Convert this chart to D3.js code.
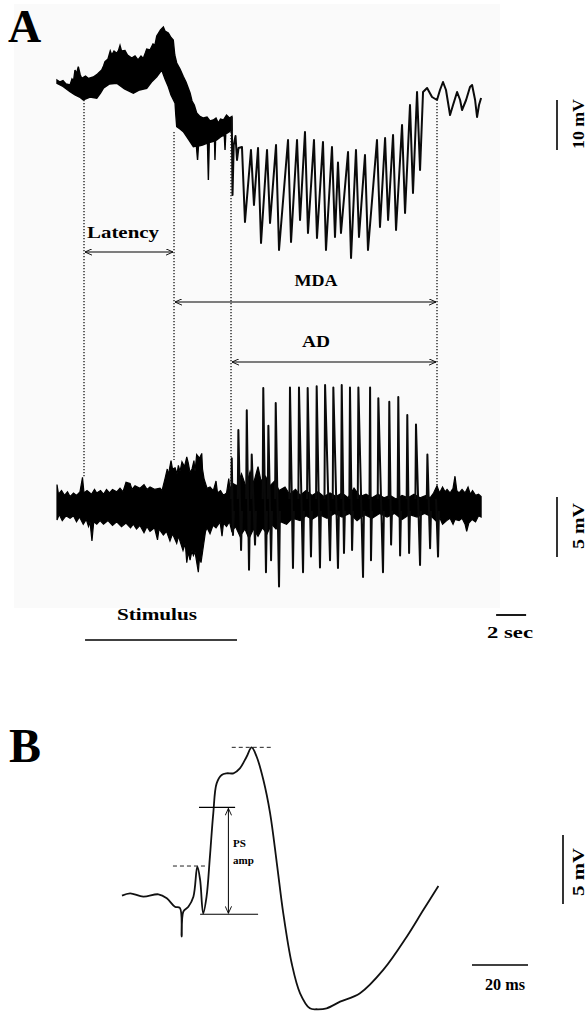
<!DOCTYPE html>
<html><head><meta charset="utf-8">
<script src="https://cdn.jsdelivr.net/npm/d3@7"></script>
<style>body{margin:0;background:#fff} svg{display:block}</style>
</head><body>
<svg id="c" width="587" height="1015"></svg>
<script>
// ---------- DATA (time in s / ms, voltage in mV) ----------
// Panel A, upper trace (DC shift): noisy thick band before AD, upper and lower envelope
const topBandUpper = [[0,1.0],[0.2,0.6],[0.4,0.9],[0.6,0.2],[0.87,0],[1.0,1.2],[1.1,0.8],[1.2,3.0],[1.3,2.2],[1.42,3.66],[1.55,2.0],[1.65,1.34],[1.9,1.8],[2.1,1.3],[2.42,1.6],[2.7,2.2],[2.98,3.0],[3.1,3.8],[3.2,4.66],[3.4,5.2],[3.55,6.8],[3.65,6.0],[3.8,6.8],[3.98,6.34],[4.1,6.9],[4.2,7.9],[4.3,6.8],[4.53,6.9],[4.7,6.0],[4.98,5.4],[5.2,5.8],[5.4,5.0],[5.6,5.8],[5.75,5.3],[5.9,6.5],[5.98,7.2],[6.2,7.0],[6.4,8.2],[6.53,8.0],[6.65,9.8],[6.75,10.3],[6.9,11.0],[7.09,11.6],[7.2,10.8],[7.42,10.4],[7.6,9.5],[7.75,9.0],[7.85,6.0],[7.98,4.4],[8.2,3.2],[8.42,1.7],[8.6,0.6],[8.87,-1.6],[9.0,-3.2],[9.15,-4.0],[9.31,-5.6],[9.5,-6.2],[9.75,-6.6],[10.0,-6.4],[10.2,-7.2],[10.42,-7.0],[10.6,-6.6],[10.75,-7.6],[10.9,-6.8],[11.09,-7.0],[11.3,-6.0],[11.5,-6.6],[11.65,-6.3]];
const topBandLower = [[0,0.34],[0.4,-0.3],[0.87,-1.34],[1.2,-2.0],[1.5,-2.4],[1.75,-3.0],[2.2,-2.4],[2.65,-2.66],[2.9,-1.6],[3.09,-0.66],[3.5,0.2],[3.98,0.34],[4.5,-0.8],[5.09,-1.66],[5.5,-1.0],[5.98,-0.66],[6.3,0.6],[6.65,1.66],[6.98,3.0],[7.2,1.2],[7.42,-0.34],[7.6,-2.0],[7.87,-3.66],[7.92,-6.0],[7.98,-8.34],[8.2,-8.8],[8.42,-9.34],[8.8,-11.0],[9.09,-12.34],[9.29,-12.2],[9.37,-15],[9.43,-12.2],[9.7,-12.0],[9.98,-11.66],[10.03,-11.6],[10.09,-19],[10.15,-11.5],[10.5,-11.2],[10.53,-15],[10.57,-11.1],[10.65,-11.0],[10.9,-10.4],[11.15,-10],[11.2,-13],[11.25,-9.8],[11.31,-9.66],[11.65,-9.0]];
// upper trace during after-discharge: alternating spike tops / bottoms, then tail
const topSpikes = [[11.65,-6.3],[11.7,-22],[11.78,-12],[11.9,-10.2],[12.0,-15],[12.1,-12.6],
 [12.33,-12.4],[12.53,-27.4],[12.93,-13],[13.13,-24],[13.4,-12.6],[13.6,-31.6],
 [14.0,-13],[14.2,-27.6],[14.6,-12],[14.8,-33],[15.4,-11],[15.6,-31.4],
 [16.0,-11],[16.2,-27],[16.53,-9.4],[16.73,-29.6],[17.13,-11],[17.33,-30.6],
 [17.73,-11.4],[17.93,-33],[18.33,-12.4],[18.53,-30.4],[18.73,-15.5],[18.93,-29.6],
 [19.4,-13.4],[19.6,-34.6],[19.93,-13],[20.13,-30.4],[20.53,-14],[20.73,-33],
 [21.33,-11],[21.53,-28.4],[21.87,-10.6],[22.07,-27],[22.4,-10],[22.6,-29],
 [23.0,-8],[23.2,-25.6],[23.53,-4],[23.73,-21.6],[24.0,-1.4],[24.2,-17],
 [24.4,-1.4],[24.67,-0.6],[25.0,-2.4],[25.33,-3],[25.53,-1],[25.73,0.6],[25.93,-1],
 [26.2,-6],[26.4,-4],[26.67,-1.4],[26.87,-3],[27.0,-5],[27.27,-3],[27.53,-0.4],
 [27.67,0],[27.87,-3],[28.0,-6.4],[28.13,-4],[28.27,-2.6]];

// Panel A, lower trace (field potential): noisy band envelope
const botBandUpper = [[0,1.7],[0.1,0.9],[0.3,1.2],[0.5,0.8],[0.7,1.1],[0.87,0.7],[1.1,1.0],[1.3,0.8],[1.53,1.1],[1.7,2.3],[1.8,1.0],[2.0,1.2],[2.3,0.9],[2.5,1.3],[2.65,1.0],[2.9,1.2],[3.1,0.9],[3.3,1.3],[3.5,1.0],[3.7,1.3],[3.98,1.1],[4.2,1.4],[4.4,1.1],[4.6,1.9],[4.87,1.8],[5.0,1.3],[5.2,1.6],[5.53,1.4],[5.8,1.7],[6.0,1.3],[6.2,1.5],[6.5,1.3],[6.87,1.4],[7.0,1.2],[7.2,2.2],[7.35,3.0],[7.42,2.5],[7.6,3.7],[7.7,3.0],[7.87,3.1],[8.0,2.6],[8.09,3.3],[8.2,2.8],[8.33,3.6],[8.5,3.2],[8.65,4.0],[8.75,3.5],[8.87,2.7],[9.0,3.0],[9.13,3.7],[9.2,2.8],[9.31,4.2],[9.5,3.9],[9.65,4.3],[9.7,3.0],[9.8,2.2],[9.9,1.8],[10.0,1.4],[10.2,1.5],[10.42,1.2],[10.6,2.0],[10.7,1.0],[10.9,1.2],[11.09,0.8],[11.3,1.0],[11.45,2.2],[11.53,1.3],
 [11.7,1.8],[12.0,1.6],[12.3,2.6],[12.6,1.5],[12.87,2.8],[13.1,1.8],[13.4,3.2],[13.6,2.0],[13.9,2.4],[14.2,1.6],[14.5,2.0],[14.8,1.2],[15.2,1.5],[15.5,0.9],[15.9,1.3],[16.2,0.8],[16.6,1.2],[17.0,0.8],[17.4,1.1],[17.8,0.7],[18.2,1.0],[18.6,0.7],[19.0,1.0],[19.4,0.6],[19.8,1.4],[20.2,0.7],[20.6,0.9],[21.0,0.6],[21.4,0.9],[21.8,0.6],[22.2,0.8],[22.6,0.5],[23.0,0.8],[23.4,0.6],[23.8,0.9],[24.2,0.6],[24.6,0.8],[24.87,0.6],[25.1,1.0],[25.33,1.6],[25.5,1.0],[25.7,1.5],[25.87,1.1],[26.0,1.3],[26.2,1.0],[26.4,1.4],[26.53,2.4],[26.65,1.2],[26.8,1.0],[27.0,1.3],[27.2,1.0],[27.4,1.5],[27.55,0.9],[27.7,1.2],[27.9,0.8],[28.1,0.9],[28.27,0.7]];
const botBandLower = [[0,-1.25],[0.15,-0.8],[0.35,-1.3],[0.6,-0.9],[0.87,-1.1],[1.1,-0.9],[1.3,-1.4],[1.5,-1.0],[1.75,-1.6],[1.95,-1.2],[2.1,-1.8],[2.2,-1.4],[2.33,-3.0],[2.45,-1.4],[2.65,-1.6],[2.87,-1.3],[3.1,-1.6],[3.4,-1.3],[3.7,-1.7],[3.98,-1.4],[4.3,-1.8],[4.6,-1.5],[4.9,-1.9],[5.09,-1.6],[5.3,-2.0],[5.53,-1.7],[5.8,-2.3],[6.0,-1.8],[6.2,-2.2],[6.5,-1.9],[6.7,-2.9],[6.8,-2.0],[7.09,-2.5],[7.3,-2.2],[7.53,-3.0],[7.7,-2.4],[7.98,-3.2],[8.1,-2.6],[8.4,-3.8],[8.55,-3.2],[8.65,-4.8],[8.75,-3.9],[8.87,-4.6],[9.0,-3.8],[9.09,-4.2],[9.2,-3.9],[9.42,-5.6],[9.5,-4.4],[9.6,-4.8],[9.75,-3.5],[9.9,-2.2],[10.0,-1.9],[10.2,-2.4],[10.4,-1.7],[10.6,-1.9],[10.87,-1.4],[11.0,-2.6],[11.1,-1.5],[11.3,-1.8],[11.5,-1.4],[11.65,-2.2],
 [11.9,-1.8],[12.2,-2.6],[12.53,-2.0],[12.8,-2.8],[13.1,-2.0],[13.4,-2.6],[13.7,-1.9],[14.0,-2.4],[14.3,-1.6],[14.6,-2.0],[14.9,-1.4],[15.3,-1.6],[15.7,-1.1],[16.2,-1.3],[16.6,-0.9],[17.0,-1.2],[17.5,-0.8],[18.0,-1.1],[18.5,-0.7],[19.0,-1.0],[19.5,-0.7],[20.0,-1.3],[20.5,-0.8],[21.0,-1.1],[21.5,-0.7],[22.0,-1.0],[22.5,-0.7],[23.0,-1.2],[23.5,-0.8],[24.0,-1.0],[24.5,-0.7],[25.0,-1.0],[25.33,-1.4],[25.53,-1.1],[25.7,-1.6],[25.98,-1.3],[26.2,-1.1],[26.4,-1.6],[26.53,-1.2],[26.8,-1.3],[27.0,-1.1],[27.2,-1.6],[27.31,-2.2],[27.45,-1.5],[27.67,-1.2],[27.9,-1.4],[28.1,-0.9],[28.27,-1.0]];
// lower trace spikes: [time of top, top mV, time of bottom, bottom mV]
const botSpikes = [[11.65,3.9,11.73,-2.5],[12.09,6.25,12.27,-3.75],[12.65,7.9,12.8,-5.4],[12.98,4.2,13.2,-3.3],
 [13.75,9.75,13.93,-5.6],[14.09,6.6,14.27,-4.6],[14.58,8.5,14.8,-6.8],[15.53,9.8,15.73,-5.25],
 [16.13,9.8,16.4,-5.6],[16.71,9.75,16.93,-4.3],[17.31,9.9,17.53,-5.2],[17.87,10.0,18.2,-4.6],
 [18.42,9.8,18.73,-5.25],[18.98,10.0,19.13,-4.0],[19.53,9.8,19.67,-3.75],[20.09,9.8,20.4,-6.0],
 [20.87,9.8,20.93,-4.6],[21.42,8.9,21.73,-5.6],[22.15,8.6,22.27,-3.3],[22.75,9.0,22.87,-4.2],
 [23.35,7.5,23.47,-4.0],[23.93,6.7,24.2,-5.0],[24.69,4.2,24.87,-3.6],[25.27,0.4,25.4,-4.3]];

// event markers (s) and interval labels
const markerTimes = [1.8, 7.8, 11.6, 25.33];
const markerTopMv = [-3, -9.4, -6.4, -3.6];
const markerBotMv = [2.3, 3.75, 1.8, 1.4];
const intervals = [["Latency",1.8,7.8],["MDA",7.8,25.33],["AD",11.6,25.33]];
const stimulus = [1.87, 12.0];

// Panel B: population spike (ms, mV)
const psTrace = [[0,-0.05],[2.9,0.12],[7.6,-0.12],[13.0,0.05],[16.0,-0.24],[18.9,-0.85],[20.7,-0.94],[21.3,-3.02],[21.9,-1.21],[23.7,-0.85],[25.5,-0.12],[26.9,2.05],[27.9,1.09],[29.0,-1.33],[30.2,-0.12],[31.4,2.78],[32.6,5.92],[33.8,8.09],[35.6,8.70],[37.4,8.82],[39.8,8.82],[42.1,9.18],[44.5,10.02],[46.3,10.70],[48.1,10.02],[50.5,8.33],[52.9,5.92],[55.3,2.30],[57.6,-1.33],[60.6,-4.95],[63.6,-7.12],[67.1,-8.21],[69.5,-8.28],[73.1,-8.21],[77.9,-7.73],[85.0,-7.12],[93.3,-5.43],[101.7,-3.02],[107.6,-1.09],[113.0,0.65]];
const psPeakMv = 10.7, psFirstPeakMv = 2.1, psTopMv = 6.35, psTroughMv = -1.4;

// ---------- DRAW ----------
const svg = d3.select("#c");
const FONT = "'Liberation Serif','Times New Roman',Tinos,Times,serif";
svg.append("rect").attr("x",14).attr("y",4).attr("width",486).attr("height",604).attr("fill","#fafafa");

const xA = d3.scaleLinear().domain([0,28.33]).range([57,482]);
const yTop = d3.scaleLinear().domain([-40,10]).range([285,35]);
const yBot = d3.scaleLinear().domain([-10,10]).range([625,385]);

const defs = svg.append("defs");
defs.append("marker").attr("id","ah").attr("viewBox","0 0 10 10").attr("refX",10).attr("refY",5)
  .attr("markerWidth",9).attr("markerHeight",7).attr("markerUnits","userSpaceOnUse")
  .attr("orient","auto-start-reverse")
  .append("path").attr("d","M0,0.5 L10,5 L0,9.5").attr("fill","none").attr("stroke","#000").attr("stroke-width",1.3);

// dotted markers
markerTimes.forEach((t,i)=>{
  svg.append("line").attr("x1",xA(t)).attr("x2",xA(t)).attr("y1",yTop(markerTopMv[i])).attr("y2",yBot(markerBotMv[i]))
   .attr("stroke","#222").attr("stroke-width",1.4).attr("stroke-dasharray","1.3,1.7");
});

const lineTop = d3.line().x(d=>xA(d[0])).y(d=>yTop(d[1]));
const lineBot = d3.line().x(d=>xA(d[0])).y(d=>yBot(d[1]));

// upper trace
svg.append("path").attr("d", lineTop(topBandUpper.concat(topBandLower.slice().reverse()))+"Z")
  .attr("fill","#000").attr("stroke","#000").attr("stroke-width",1.4).attr("stroke-linejoin","miter");
svg.append("path").attr("d", lineTop(topSpikes))
  .attr("fill","none").attr("stroke","#0a0a0a").attr("stroke-width",2.0).attr("stroke-linejoin","round");

// lower trace
svg.append("path").attr("d", lineBot(botBandUpper.concat(botBandLower.slice().reverse()))+"Z")
  .attr("fill","#000").attr("stroke","#000").attr("stroke-width",1.2);
botSpikes.forEach(s=>{
  svg.append("path").attr("d", lineBot([[s[0]-0.04,0.5],[s[0],s[1]],[s[2],s[3]],[s[2]+0.06,-0.5]]))
   .attr("fill","none").attr("stroke","#0a0a0a").attr("stroke-width",2.0).attr("stroke-linejoin","round");
});

// intervals
const ivY = [252,302,362], ivTextY=[238,286,347], ivLen=[72,43,28], ivX=[123,316,316];
intervals.forEach((iv,i)=>{
  svg.append("line").attr("x1",xA(iv[1])+1).attr("x2",xA(iv[2])-1).attr("y1",ivY[i]).attr("y2",ivY[i])
    .attr("stroke","#000").attr("stroke-width",1.2).attr("marker-start","url(#ah)").attr("marker-end","url(#ah)");
  svg.append("text").attr("x",ivX[i]).attr("y",ivTextY[i]).attr("text-anchor","middle")
    .attr("font-family",FONT).attr("font-weight","bold").attr("font-size",17)
    .attr("textLength",ivLen[i]).attr("lengthAdjust","spacingAndGlyphs").text(iv[0]);
});

// stimulus
svg.append("line").attr("x1",xA(stimulus[0])).attr("x2",xA(stimulus[1])).attr("y1",640).attr("y2",640).attr("stroke","#000").attr("stroke-width",1.6);
svg.append("text").attr("x",157).attr("y",620).attr("text-anchor","middle").attr("font-family",FONT)
  .attr("font-weight","bold").attr("font-size",16).attr("textLength",80).attr("lengthAdjust","spacingAndGlyphs").text("Stimulus");

// scale bars A
svg.append("line").attr("x1",557).attr("x2",557).attr("y1",yTop(-3)).attr("y2",yTop(-13)).attr("stroke","#000").attr("stroke-width",1.6);
svg.append("line").attr("x1",557).attr("x2",557).attr("y1",yBot(0.67)).attr("y2",yBot(-4.33)).attr("stroke","#000").attr("stroke-width",1.6);
svg.append("line").attr("x1",xA(29.27)).attr("x2",xA(31.27)).attr("y1",615).attr("y2",615).attr("stroke","#000").attr("stroke-width",1.8);
svg.append("text").attr("x",510).attr("y",638).attr("text-anchor","middle").attr("font-family",FONT)
  .attr("font-weight","bold").attr("font-size",17).attr("textLength",46).attr("lengthAdjust","spacingAndGlyphs").text("2 sec");

function vtext(x,y,len,s){
  svg.append("text").attr("transform",`translate(${x},${y}) rotate(-90)`).attr("text-anchor","middle")
   .attr("font-family",FONT).attr("font-weight","bold").attr("font-size",16)
   .attr("textLength",len).attr("lengthAdjust","spacingAndGlyphs").text(s);
}
vtext(584,124,50,"10 mV");
vtext(584,526,46,"5 mV");

// panel labels
svg.append("text").attr("x",8).attr("y",42).attr("font-family",FONT).attr("font-weight","bold").attr("font-size",46).text("A");
svg.append("text").attr("x",9).attr("y",762).attr("font-family",FONT).attr("font-weight","bold").attr("font-size",48).text("B");

// ---------- Panel B ----------
const xB = d3.scaleLinear().domain([0,113]).range([122,438.4]);
const yB = d3.scaleLinear().domain([-10,15]).range([1033,688]);
svg.append("path").attr("d", d3.line().x(d=>xB(d[0])).y(d=>yB(d[1])).curve(d3.curveCatmullRom.alpha(0.5))(psTrace))
  .attr("fill","none").attr("stroke","#111").attr("stroke-width",1.8).attr("stroke-linejoin","round");

svg.append("line").attr("x1",xB(39.2)).attr("x2",xB(54)).attr("y1",yB(psPeakMv)).attr("y2",yB(psPeakMv)).attr("stroke","#222").attr("stroke-width",1).attr("stroke-dasharray","4,3");
svg.append("line").attr("x1",xB(18.2)).attr("x2",xB(30.4)).attr("y1",yB(psFirstPeakMv)).attr("y2",yB(psFirstPeakMv)).attr("stroke","#222").attr("stroke-width",1).attr("stroke-dasharray","4,3");
svg.append("line").attr("x1",xB(27.5)).attr("x2",xB(40.4)).attr("y1",yB(psTopMv)).attr("y2",yB(psTopMv)).attr("stroke","#000").attr("stroke-width",1.1);
svg.append("line").attr("x1",xB(27.9)).attr("x2",xB(48.6)).attr("y1",yB(psTroughMv)).attr("y2",yB(psTroughMv)).attr("stroke","#000").attr("stroke-width",1.1);
svg.append("line").attr("x1",xB(38)).attr("x2",xB(38)).attr("y1",yB(psTopMv)+1).attr("y2",yB(psTroughMv)-1)
  .attr("stroke","#000").attr("stroke-width",1).attr("marker-start","url(#ah)").attr("marker-end","url(#ah)");
svg.append("text").attr("x",233).attr("y",847).attr("font-family",FONT).attr("font-weight","bold").attr("font-size",11).text("PS");
svg.append("text").attr("x",233).attr("y",864).attr("font-family",FONT).attr("font-weight","bold").attr("font-size",11).text("amp");

// scale bars B
svg.append("line").attr("x1",563).attr("x2",563).attr("y1",yB(4.35)).attr("y2",yB(-0.65)).attr("stroke","#000").attr("stroke-width",1.6);
svg.append("line").attr("x1",xB(125)).attr("x2",xB(145)).attr("y1",965).attr("y2",965).attr("stroke","#000").attr("stroke-width",1.6);
svg.append("text").attr("x",505).attr("y",990).attr("text-anchor","middle").attr("font-family",FONT)
  .attr("font-weight","bold").attr("font-size",16).attr("textLength",40).attr("lengthAdjust","spacingAndGlyphs").text("20 ms");
vtext(584,872,48,"5 mV");
</script>
</body></html>
